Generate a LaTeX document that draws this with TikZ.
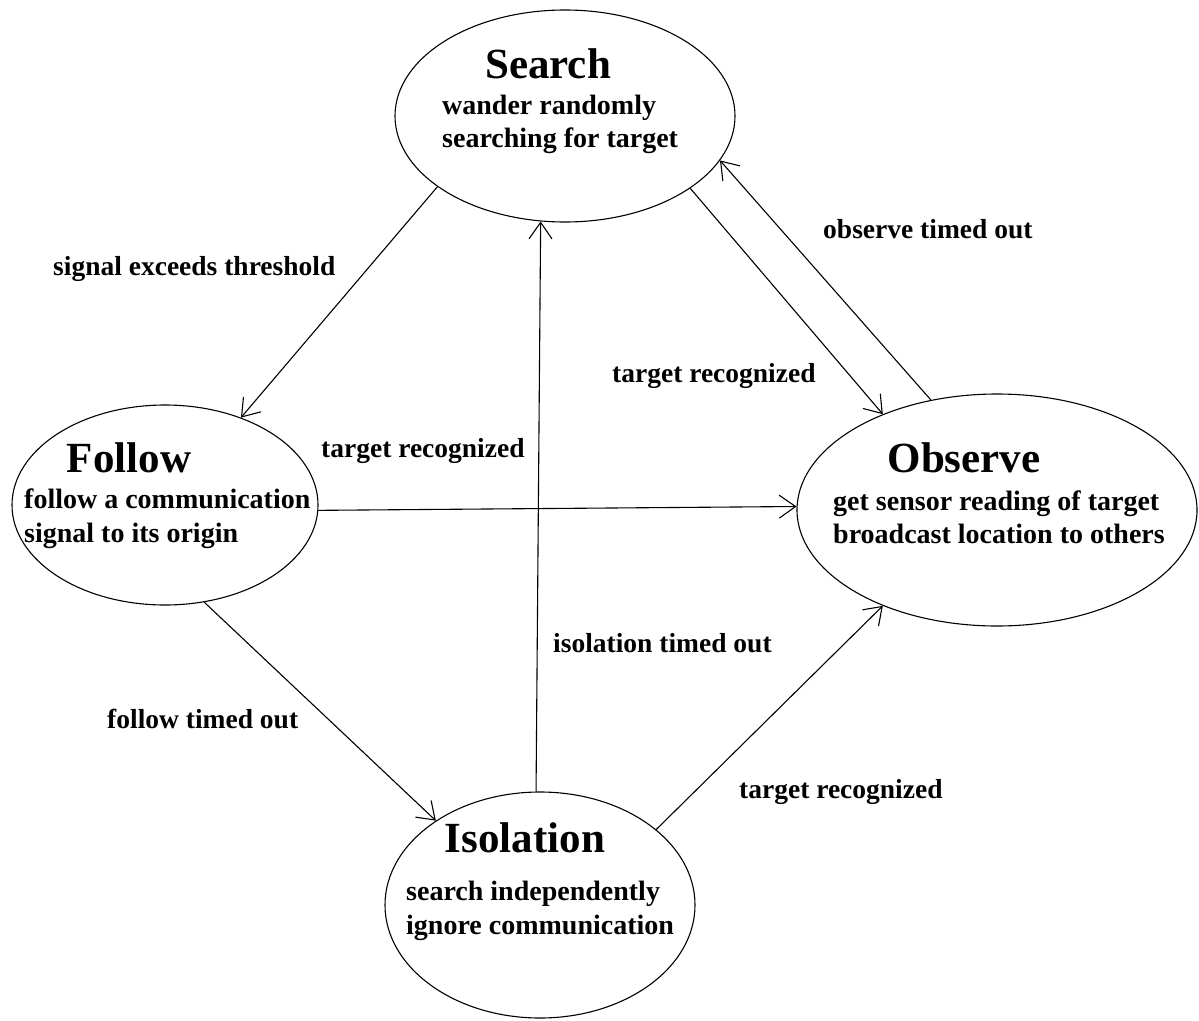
\documentclass[tikz,border=0pt]{standalone}
\usepackage{fontspec}
\setmainfont{Liberation Serif}
\usetikzlibrary{arrows.meta,shapes.geometric}

\begin{document}
\begin{tikzpicture}[x=1pt,y=-1pt,
  state/.style={draw, ellipse, inner sep=0pt, line width=1.1pt},
  title/.style={font=\fontsize{43}{43}\selectfont\bfseries, anchor=base, inner sep=0pt},
  body/.style={font=\fontsize{28}{28}\selectfont\bfseries, anchor=base west, inner sep=0pt},
  lbl/.style={font=\fontsize{27.5}{27.5}\selectfont\bfseries, anchor=base west, inner sep=0pt},
  trans/.style={line width=1.1pt, -{Straight Barb[angle=70:20pt]}}]

\fill[white] (0,0) rectangle (1199,1020);
\useasboundingbox (0,0) rectangle (1199,1020);

% states
\node[state, minimum width=340pt, minimum height=212pt] (search) at (565,116) {};
\node[state, minimum width=306pt, minimum height=200pt] (follow) at (165,505) {};
\node[state, minimum width=400pt, minimum height=232pt] (observe) at (997,510) {};
\node[state, minimum width=310pt, minimum height=226pt] (isolation) at (540,905) {};

% state texts
\node[title] (searchT) at (548,78) {Search};
\node[body] (searchA) at (442,114) {wander randomly};
\node[body] (searchB) at (442,147) {searching for target};

\node[title] (followT) at (129,472) {Follow};
\node[body] (followA) at (24,508) {follow a communication};
\node[body] (followB) at (24,542) {signal to its origin};

\node[title] (observeT) at (964,472) {Observe};
\node[body] (observeA) at (833,510) {get sensor reading of target};
\node[body] (observeB) at (833,543) {broadcast location to others};

\node[title] (isolationT) at (525,852) {Isolation};
\node[body] (isolationA) at (406,900) {search independently};
\node[body] (isolationB) at (406,934) {ignore communication};

% transitions
\draw[trans] (search.209) -- (follow.49);
\draw[trans] (follow.358) -- (observe.179);
\draw[trans] (isolation.92) -- (search.257);
\draw[trans] (search.330) -- (observe.140);
\draw[trans] (observe.121) -- (search.344);
\draw[trans] (follow.292) -- (isolation.141);
\draw[trans] (isolation.33) -- (observe.220);

% transition labels
\node[lbl] (l1) at (53,275) {signal exceeds threshold};
\node[lbl] (l2) at (321,457) {target recognized};
\node[lbl] (l3) at (612,382) {target recognized};
\node[lbl] (l4) at (823,238) {observe timed out};
\node[lbl] (l5) at (553,652) {isolation timed out};
\node[lbl] (l6) at (107,728) {follow timed out};
\node[lbl] (l7) at (739,798) {target recognized};
\end{tikzpicture}
\end{document}
